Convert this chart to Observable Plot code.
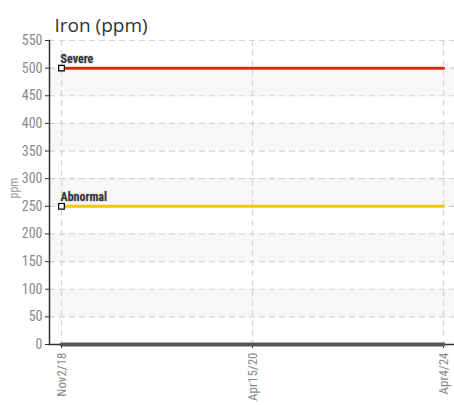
<!DOCTYPE html>
<html>
<head>
<meta charset="utf-8">
<script src="https://cdn.jsdelivr.net/npm/d3@7"></script>
<script src="https://cdn.jsdelivr.net/npm/@observablehq/plot@0.6"></script>
<style>
  html, body { margin: 0; padding: 0; background: #fff; }
  #chart svg { display: block; }
</style>
</head>
<body>
<div id="chart"></div>
<script>
const dates = ["Nov2/18", "Apr15/20", "Apr4/24"];
const ironValues = [0, 0, 0];
const severeValues = [500, 500, 500];
const abnormalValues = [250, 250, 250];
const yTicks = [0, 50, 100, 150, 200, 250, 300, 350, 400, 450, 500, 550];
const bandStarts = [50, 150, 250, 350, 450];
const title = "Iron (ppm)";
const yLabel = "ppm";

const iron = dates.map((d, i) => ({date: d, value: ironValues[i]}));
const severe = dates.map((d, i) => ({date: d, value: severeValues[i]}));
const abnormal = dates.map((d, i) => ({date: d, value: abnormalValues[i]}));

const condensed = "'Roboto Condensed', 'Liberation Sans Narrow', 'Arial Narrow', 'DejaVu Sans Condensed', sans-serif";

const chart = Plot.plot({
  width: 454,
  height: 405,
  marginLeft: 49,
  marginRight: 0,
  marginTop: 40,
  marginBottom: 61,
  insetLeft: 12,
  insetRight: 11,
  style: {fontFamily: condensed, background: "#fff"},
  x: {type: "point", domain: dates, padding: 0},
  y: {domain: [0, 550]},
  marks: [
    Plot.rect(bandStarts, {y1: d => d, y2: d => d + 50, fill: "#f7f7f7"}),
    Plot.gridY(yTicks, {stroke: "#d4d4d4", strokeOpacity: 1, strokeDasharray: "6,4", strokeWidth: 1.2}),
    Plot.gridX(dates, {stroke: "#d4d4d4", strokeOpacity: 1, strokeDasharray: "6,4", strokeWidth: 1.2}),
    Plot.axisY(yTicks, {tickSize: 4, tickPadding: 3, fontSize: 14, color: "#8a8a8a", stroke: "#333", label: null}),
    Plot.axisX(dates, {tickSize: 4, tickPadding: 4, fontSize: 13, color: "#8a8a8a", stroke: "#333", tickRotate: -90, textAnchor: "end", label: null}),
    Plot.frame({anchor: "left", stroke: "#333", strokeWidth: 1.5}),
    Plot.ruleY([0], {stroke: "#333", strokeWidth: 1.5}),
    Plot.line(iron, {x: "date", y: "value", stroke: "#555", strokeWidth: 4}),
    Plot.line(severe, {x: "date", y: "value", stroke: "#ff1a1a", strokeWidth: 3, strokeDasharray: "3,1"}),
    Plot.line(abnormal, {x: "date", y: "value", stroke: "#f7c600", strokeWidth: 3, strokeDasharray: "3,1"}),
    Plot.dot([severe[0], abnormal[0]], {x: "date", y: "value", symbol: "square", r: 3.2, fill: "#fff", stroke: "#000", strokeWidth: 1.2}),
    Plot.text([{...severe[0], label: "Severe"}, {...abnormal[0], label: "Abnormal"}], {
      x: "date", y: "value", text: "label", textAnchor: "start", dx: -1, dy: -9,
      fontSize: 12, fontWeight: "bold", fill: "#333", stroke: "#ddd", strokeWidth: 1.5
    }),
    Plot.text([yLabel], {frameAnchor: "left", dx: -35, dy: 6, rotate: -90, fontSize: 12, fill: "#999"}),
    Plot.text([title], {frameAnchor: "top-left", dx: 5, dy: -22, fontSize: 19, fill: "#333", fontFamily: "'Open Sans', sans-serif"})
  ]
});
document.getElementById("chart").appendChild(chart);
</script>
</body>
</html>
